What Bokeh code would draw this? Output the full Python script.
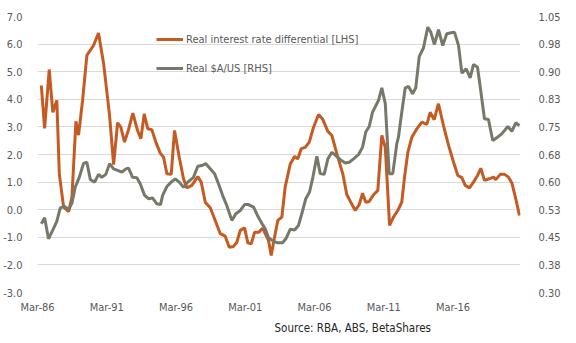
from bokeh.plotting import figure
from bokeh.models import (Range1d, LinearAxis, FixedTicker, Legend, LegendItem, Title)
from bokeh.embed import file_html
from bokeh.resources import INLINE

# ---- data ----
# Real interest rate differential [LHS]
rird_t = [1986.27, 1986.51, 1986.84, 1987.10, 1987.39, 1987.57, 1987.88, 1988.24, 1988.48, 1988.77,
          1988.96, 1989.25, 1989.56, 1990.04, 1990.40, 1990.77, 1991.20, 1991.49, 1991.78, 1992.01,
          1992.28, 1992.57, 1992.88, 1993.22, 1993.46, 1993.70, 1993.96, 1994.25, 1994.54, 1994.86,
          1995.10, 1995.34, 1995.65, 1995.89, 1996.23, 1996.54, 1996.78, 1997.14, 1997.57, 1997.82,
          1998.11, 1998.47, 1998.83, 1999.19, 1999.55, 1999.84, 2000.15, 2000.39, 2000.64, 2000.95,
          2001.18, 2001.43, 2001.67, 2001.96, 2002.25, 2002.68, 2002.87, 2003.16, 2003.35, 2003.64,
          2003.88, 2004.25, 2004.56, 2004.79, 2005.04, 2005.33, 2005.62, 2005.93, 2006.29, 2006.58,
          2006.96, 2007.25, 2007.61, 2008.04, 2008.33, 2008.65, 2008.94, 2009.23, 2009.47, 2009.70,
          2009.95, 2010.26, 2010.57, 2010.86, 2011.11, 2011.42, 2011.70, 2012.01, 2012.30, 2012.50,
          2012.74, 2013.03, 2013.39, 2013.75, 2014.11, 2014.35, 2014.64, 2014.95, 2015.31, 2015.68,
          2016.04, 2016.35, 2016.64, 2016.88, 2017.19, 2017.48, 2017.77, 2018.01, 2018.27, 2018.61,
          2018.92, 2019.09, 2019.41, 2019.72, 2020.01, 2020.25, 2020.53, 2020.80]
rird_v = [4.50, 2.95, 5.08, 3.53, 3.96, 1.30, 0.10, -0.07, 0.45, 3.20,
          2.70, 3.96, 5.59, 5.95, 6.40, 5.29, 3.41, 1.63, 3.15, 2.99,
          2.45, 2.90, 3.50, 2.87, 2.57, 3.47, 2.93, 2.90, 2.45, 2.05,
          1.90, 1.30, 1.28, 2.87, 1.90, 1.12, 0.79, 0.88, 1.20, 1.00,
          0.27, 0.07, -0.39, -0.87, -0.96, -1.36, -1.33, -1.18, -0.75, -0.66,
          -1.20, -1.24, -0.82, -0.82, -0.67, -1.12, -1.66, -0.87, -0.39, -0.27,
          0.82, 1.66, 1.93, 1.84, 2.21, 2.26, 2.45, 2.99, 3.45, 3.29,
          2.84, 2.69, 2.03, 1.30, 0.55, 0.24, -0.03, 0.19, 0.60, 0.27,
          0.30, 0.54, 0.70, 2.69, 2.26, -0.57, -0.27, -0.03, 0.27, 1.18,
          2.08, 2.63, 2.93, 3.17, 3.09, 3.53, 3.26, 3.84, 3.05, 2.33,
          1.72, 1.24, 1.16, 0.88, 0.79, 1.00, 1.24, 1.50, 1.06, 1.12,
          1.18, 1.09, 1.28, 1.28, 1.18, 0.97, 0.40, -0.21]

# Real $A/US [RHS]
aud_t = [1986.27, 1986.51, 1986.79, 1987.08, 1987.39, 1987.64, 1987.95, 1988.24, 1988.48, 1988.72,
         1989.01, 1989.32, 1989.56, 1989.81, 1990.12, 1990.40, 1990.64, 1990.93, 1991.20, 1991.49,
         1991.78, 1992.09, 1992.38, 1992.57, 1992.86, 1993.17, 1993.42, 1993.73, 1994.01, 1994.30,
         1994.61, 1994.88, 1995.03, 1995.34, 1995.65, 1995.94, 1996.23, 1996.54, 1996.85, 1997.26,
         1997.57, 1997.86, 1998.15, 1998.47, 1998.78, 1999.07, 1999.36, 1999.67, 2000.03, 2000.32,
         2000.64, 2000.95, 2001.23, 2001.60, 2001.91, 2002.19, 2002.44, 2002.68, 2003.04, 2003.35,
         2003.69, 2003.93, 2004.25, 2004.56, 2004.84, 2005.08, 2005.37, 2005.64, 2005.88, 2006.17,
         2006.41, 2006.70, 2006.96, 2007.25, 2007.54, 2007.86, 2008.22, 2008.51, 2008.82, 2009.18,
         2009.47, 2009.70, 2009.95, 2010.19, 2010.43, 2010.62, 2010.86, 2011.11, 2011.39, 2011.65,
         2011.94, 2012.06, 2012.30, 2012.55, 2012.79, 2013.08, 2013.31, 2013.56, 2013.87, 2014.18,
         2014.40, 2014.66, 2014.95, 2015.26, 2015.55, 2015.87, 2016.11, 2016.40, 2016.64, 2016.95,
         2017.24, 2017.48, 2017.77, 2018.04, 2018.27, 2018.56, 2018.87, 2019.21, 2019.52, 2019.96,
         2020.25, 2020.53, 2020.80]
aud_v = [0.487, 0.503, 0.446, 0.468, 0.493, 0.530, 0.534, 0.525, 0.543, 0.586,
         0.613, 0.651, 0.654, 0.607, 0.600, 0.621, 0.613, 0.621, 0.650, 0.636,
         0.632, 0.627, 0.636, 0.638, 0.613, 0.612, 0.595, 0.564, 0.555, 0.557,
         0.541, 0.539, 0.564, 0.588, 0.600, 0.609, 0.600, 0.586, 0.600, 0.613,
         0.643, 0.645, 0.650, 0.636, 0.623, 0.595, 0.564, 0.536, 0.496, 0.514,
         0.523, 0.539, 0.539, 0.532, 0.507, 0.488, 0.473, 0.449, 0.439, 0.435,
         0.435, 0.446, 0.472, 0.470, 0.482, 0.514, 0.555, 0.573, 0.613, 0.670,
         0.623, 0.621, 0.663, 0.681, 0.672, 0.661, 0.652, 0.654, 0.663, 0.675,
         0.695, 0.736, 0.751, 0.790, 0.808, 0.822, 0.856, 0.813, 0.623, 0.623,
         0.704, 0.722, 0.790, 0.856, 0.860, 0.840, 0.856, 0.941, 0.965, 1.021,
         1.007, 0.974, 1.014, 0.971, 1.003, 1.006, 1.007, 0.971, 0.896, 0.908,
         0.883, 0.920, 0.912, 0.838, 0.772, 0.770, 0.713, 0.722, 0.731, 0.751,
         0.738, 0.761, 0.754]

x_ticks = [1986, 1991, 1996, 2001, 2006, 2011, 2016]
x_labels = ["Mar-86", "Mar-91", "Mar-96", "Mar-01", "Mar-06", "Mar-11", "Mar-16"]
lhs_ticks = [-3, -2, -1, 0, 1, 2, 3, 4, 5, 6, 7]
lhs_labels = ["-3.0", "-2.0", "-1.0", "0.0", "1.0", "2.0", "3.0", "4.0", "5.0", "6.0", "7.0"]
rhs_ticks = [0.30, 0.375, 0.45, 0.525, 0.60, 0.675, 0.75, 0.825, 0.90, 0.975, 1.05]
rhs_labels = ["0.30", "0.38", "0.45", "0.53", "0.60", "0.68", "0.75", "0.83", "0.90", "0.98", "1.05"]

series_names = ["Real interest rate differential [LHS]", "Real $A/US [RHS]"]
source_text = "Source: RBA, ABS, BetaShares"

# ---- style ----
FONT = "'Liberation Sans Narrow', 'DejaVu Sans Condensed', 'Liberation Sans', sans-serif"
TXT = "#595959"
ORANGE = "#C55A22"
GREY = "#76786A"
GRID = "#D9D9D9"

p = figure(width=576, height=343, output_backend="svg", toolbar_location=None,
           x_range=Range1d(1985.995, 2020.874), y_range=Range1d(-3, 7),
           min_border_left=37, min_border_right=56, min_border_top=16, min_border_bottom=51,
           background_fill_color="white", border_fill_color="white", outline_line_color=None)
p.extra_y_ranges = {"rhs": Range1d(0.30, 1.05)}

# axes
p.xaxis.ticker = FixedTicker(ticks=x_ticks)
p.xaxis.major_label_overrides = {t: l for t, l in zip(x_ticks, x_labels)}
p.yaxis.ticker = FixedTicker(ticks=lhs_ticks)
p.yaxis.major_label_overrides = {t: l for t, l in zip(lhs_ticks, lhs_labels)}

raxis = LinearAxis(y_range_name="rhs", ticker=FixedTicker(ticks=rhs_ticks),
                   major_label_overrides={t: l for t, l in zip(rhs_ticks, rhs_labels)})
p.add_layout(raxis, "right")

for ax in [p.xaxis[0], p.yaxis[0], raxis]:
    ax.axis_line_color = None
    ax.major_tick_line_color = None
    ax.minor_tick_line_color = None
    ax.major_label_text_font = FONT
    ax.major_label_text_font_size = "11px"
    ax.major_label_text_color = TXT
p.xaxis.major_label_standoff = 2
p.yaxis.major_label_standoff = 9
raxis.major_label_standoff = 12

p.xgrid.grid_line_color = None
p.ygrid.grid_line_color = GRID
p.ygrid.grid_line_width = 1

r1 = p.line(rird_t, rird_v, line_color=ORANGE, line_width=3)
r2 = p.line(aud_t, aud_v, line_color=GREY, line_width=3, y_range_name="rhs")

legend = Legend(items=[LegendItem(label=series_names[0], renderers=[r1]),
                       LegendItem(label=series_names[1], renderers=[r2])],
                location=(119, 214), orientation="vertical",
                background_fill_alpha=0, border_line_color=None,
                padding=0, margin=0, spacing=9, glyph_width=27, glyph_height=20,
                label_height=20, label_standoff=3,
                label_text_font=FONT, label_text_font_size="11px", label_text_color=TXT)
p.add_layout(legend, "center")

src = Title(text=source_text, align="left", offset=237, text_font=FONT,
            text_font_size="11.5px", text_font_style="normal", text_color="#262626", standoff=4)
p.add_layout(src, "below")

open("out.html", "w").write(file_html(p, INLINE))
